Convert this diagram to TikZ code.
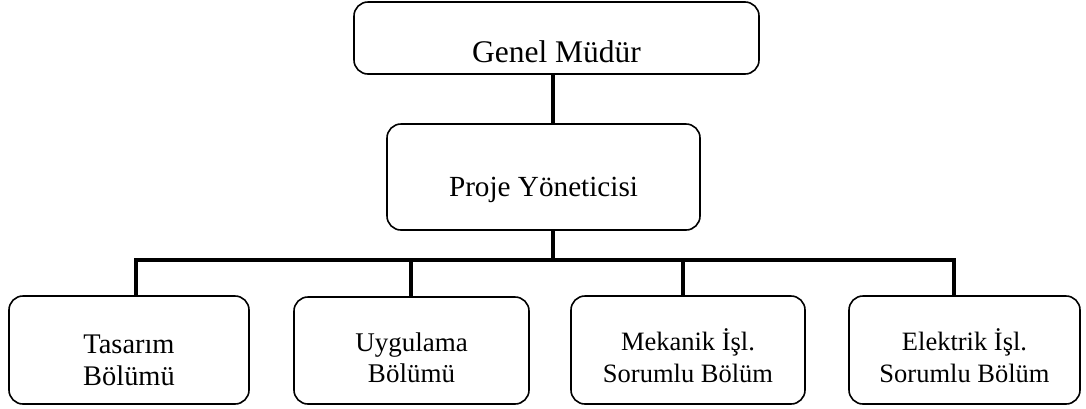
\documentclass[tikz,border=0pt]{standalone}
\usepackage{fontspec}
\setmainfont{Liberation Serif}
\begin{document}
\begin{tikzpicture}[x=1pt,y=-1pt,
  box/.style={draw,line width=1.6pt,rounded corners=14pt,inner sep=0pt},
  link/.style={line width=3.6pt},
  lbl/.style={anchor=base,align=center,inner sep=0pt}]
\useasboundingbox (0,0) rectangle (1086,408);

% boxes
\node[box,minimum width=405pt,minimum height=72pt] (gm) at (556.5,38) {};
\node[box,minimum width=313pt,minimum height=106pt] (pm) at (543.5,177) {};
\node[box,minimum width=240pt,minimum height=108pt] (tb) at (129,350) {};
\node[box,minimum width=235pt,minimum height=107pt] (ub) at (411.5,350.5) {};
\node[box,minimum width=234pt,minimum height=108pt] (mb) at (688,350) {};
\node[box,minimum width=231pt,minimum height=108pt] (eb) at (964.5,350) {};

% labels (base anchor sits on the last line of multi-line labels)
\node[lbl,font=\fontsize{31.5}{36}\selectfont] (gmt) at (556.5,62) {Genel Müdür};
\node[lbl,font=\fontsize{29.2}{33}\selectfont] (pmt) at (543.5,196) {Proje Yöneticisi};
\node[lbl,font=\fontsize{28.4}{32}\selectfont] (tbt) at (129,385) {Tasarım\\Bölümü};
\node[lbl,font=\fontsize{27}{31}\selectfont] (ubt) at (411.5,382) {Uygulama\\Bölümü};
\node[lbl,font=\fontsize{26.5}{32}\selectfont] (mbt) at (688,382) {Mekanik İşl.\\Sorumlu Bölüm};
\node[lbl,font=\fontsize{26.5}{32}\selectfont] (ebt) at (964.5,382) {Elektrik İşl.\\Sorumlu Bölüm};

% connector positions
\coordinate (trunk) at (553,260);
\coordinate (d1) at (136,260);
\coordinate (d2) at (411,260);
\coordinate (d3) at (683,260);
\coordinate (d4) at (954,260);

% connectors
\draw[link] (gm.south -| trunk) -- (pm.north -| trunk);
\draw[link] (pm.south -| trunk) -- (trunk);
\draw[link] (tb.north -| d1) -- (d1) -- (d4) -- (eb.north -| d4);
\draw[link] (d2) -- (ub.north -| d2);
\draw[link] (d3) -- (mb.north -| d3);
\end{tikzpicture}
\end{document}
